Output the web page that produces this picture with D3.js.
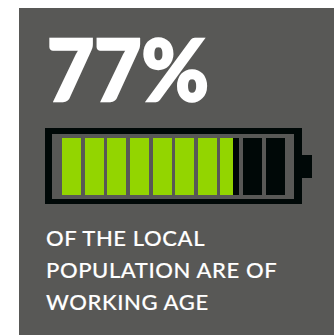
<!DOCTYPE html>
<html>
<head>
<meta charset="utf-8">
<script src="https://cdn.jsdelivr.net/npm/d3@7"></script>
<style>
html, body { margin: 0; padding: 0; background: #fff; }
svg { display: block; }
</style>
</head>
<body>
<script>
// Headline statistic and its caption
const sharePercent = 77;
const headline = "77%";
const captionLines = ["OF THE LOCAL", "POPULATION ARE OF", "WORKING AGE"];
const cells = d3.range(10);

const width = 334, height = 335;
const svg = d3.select("body").append("svg")
  .attr("width", width).attr("height", height);

const panelColor = "#585856", frameColor = "#000807", fillColor = "#93d500";

svg.append("rect").attr("x", 19).attr("y", 8)
  .attr("width", width - 19).attr("height", height - 8).attr("fill", panelColor);

svg.append("text").attr("x", 47).attr("y", 101)
  .attr("font-family", "Lato").attr("font-weight", 900)
  .attr("font-size", 86).attr("fill", "#fff")
  .attr("stroke", "#fff").attr("stroke-width", 2.4)
  .attr("textLength", 162).attr("lengthAdjust", "spacingAndGlyphs")
  .text(headline);

// Battery casing: outer body with the hollow cut out, then the terminal
svg.append("path")
  .attr("d", "M45 128H302V204H45Z M52 134V199H294V134Z")
  .attr("fill", frameColor).attr("fill-rule", "evenodd");
svg.append("rect").attr("x", 302).attr("y", 155)
  .attr("width", 10).attr("height", 23).attr("fill", frameColor);

// One cell stands for ten percent of the battery's charge
const x = d3.scaleBand().domain(cells).range([62, 284.7]).paddingInner(0.16);
const cellFill = d3.scaleLinear().domain([0, 10]).range([0, 1]).clamp(true);
const chargeInCell = i => cellFill(Math.max(0, sharePercent - i * 10));
const left = i => Math.round(x(i));
const right = i => Math.round(x(i) + x.bandwidth());

const cell = svg.append("g").selectAll("g").data(cells).join("g");
cell.append("rect")
  .attr("x", left).attr("y", 138)
  .attr("width", i => right(i) - left(i)).attr("height", 57)
  .attr("fill", frameColor);
cell.append("rect")
  .attr("x", left).attr("y", 138)
  .attr("width", i => Math.round((right(i) - left(i)) * chargeInCell(i)))
  .attr("height", 57)
  .attr("fill", fillColor);

svg.append("g").selectAll("text").data(captionLines).join("text")
  .attr("x", 46).attr("y", (d, i) => 246 + i * 32)
  .attr("font-family", "Lato").attr("font-weight", 500)
  .attr("font-size", 22).attr("letter-spacing", 0.6).attr("fill", "#fff")
  .attr("stroke", "#fff").attr("stroke-width", 0.15)
  .text(d => d);
</script>
</body>
</html>
